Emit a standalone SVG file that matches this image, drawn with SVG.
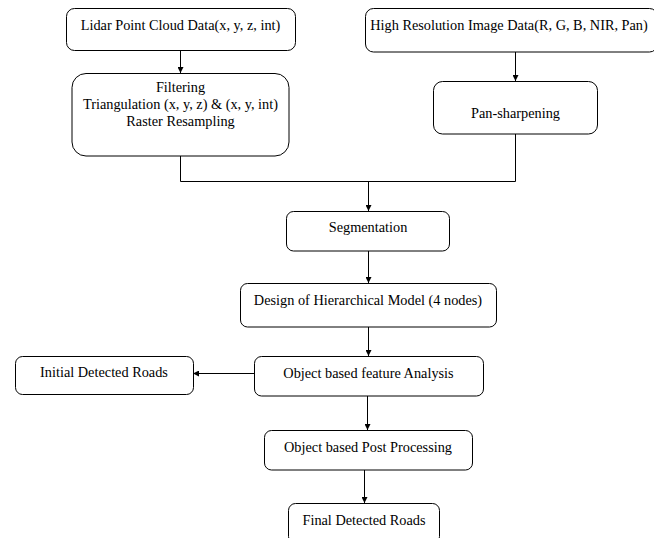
<svg xmlns="http://www.w3.org/2000/svg" width="654" height="538" viewBox="0 0 654 538">
<style>
.box{fill:#fff;stroke:#000;stroke-width:1}
.t{font-family:"Liberation Serif","Times New Roman",serif;font-size:14.3px;fill:#000;text-anchor:middle}
.c{fill:none;stroke:#000;stroke-width:1}
</style>
<defs>
<marker id="ah" viewBox="0 0 10 10" refX="10" refY="5" markerWidth="6" markerHeight="6" markerUnits="userSpaceOnUse" orient="auto">
<path d="M0,0 L10,5 L0,10 z" fill="#000"/>
</marker>
</defs>
<rect width="654" height="538" fill="#fff"/>
<g id="connectors">
<line class="c" x1="180.5" y1="51" x2="180.5" y2="73" marker-end="url(#ah)"/>
<polyline class="c" points="180.5,156 180.5,181.5 515.5,181.5 515.5,134"/>
<line class="c" x1="515.5" y1="52" x2="515.5" y2="81" marker-end="url(#ah)"/>
<line class="c" x1="368.5" y1="181.5" x2="368.5" y2="211" marker-end="url(#ah)"/>
<line class="c" x1="368.5" y1="251" x2="368.5" y2="283" marker-end="url(#ah)"/>
<line class="c" x1="368.5" y1="327" x2="368.5" y2="356" marker-end="url(#ah)"/>
<line class="c" x1="254" y1="373.5" x2="193" y2="373.5" marker-end="url(#ah)"/>
<line class="c" x1="367.5" y1="396" x2="367.5" y2="430" marker-end="url(#ah)"/>
<line class="c" x1="364.5" y1="470" x2="364.5" y2="503" marker-end="url(#ah)"/>
</g>
<g id="lidar">
<rect class="box" x="66.5" y="8.5" width="229" height="42" rx="8"/>
<text class="t" x="180.5" y="30">Lidar Point Cloud Data(x, y, z, int)</text>
</g>
<g id="filtering">
<rect class="box" x="72" y="73.5" width="217" height="82.5" rx="14"/>
<text class="t" x="180.5" y="91.5">Filtering</text>
<text class="t" x="180.5" y="108.5">Triangulation (x, y, z) &amp; (x, y, int)</text>
<text class="t" x="180.5" y="125.5">Raster Resampling</text>
</g>
<g id="highres">
<rect class="box" x="365.5" y="8.5" width="292" height="43.5" rx="8"/>
<text class="t" x="509" y="29.5">High Resolution Image Data(R, G, B, NIR, Pan)</text>
</g>
<g id="pansharp">
<rect class="box" x="433.5" y="81.5" width="164" height="52.5" rx="9"/>
<text class="t" x="515.5" y="117.5">Pan-sharpening</text>
</g>
<g id="segmentation">
<rect class="box" x="286.5" y="211.5" width="163" height="39.5" rx="7"/>
<text class="t" x="368" y="232">Segmentation</text>
</g>
<g id="design">
<rect class="box" x="240.5" y="283.5" width="256" height="43.5" rx="7"/>
<text class="t" x="368" y="305">Design of Hierarchical Model (4 nodes)</text>
</g>
<g id="objfeature">
<rect class="box" x="254.5" y="356.5" width="229" height="39.5" rx="7"/>
<text class="t" x="368.5" y="378">Object based feature Analysis</text>
</g>
<g id="initial">
<rect class="box" x="15.5" y="356.5" width="178" height="38" rx="7"/>
<text class="t" x="104" y="377">Initial Detected Roads</text>
</g>
<g id="postproc">
<rect class="box" x="264.5" y="430.5" width="208" height="39.5" rx="7"/>
<text class="t" x="368" y="451.5">Object based Post Processing</text>
</g>
<g id="final">
<rect class="box" x="288.5" y="503.5" width="151" height="40" rx="7"/>
<text class="t" x="364" y="525">Final Detected Roads</text>
</g>
</svg>
